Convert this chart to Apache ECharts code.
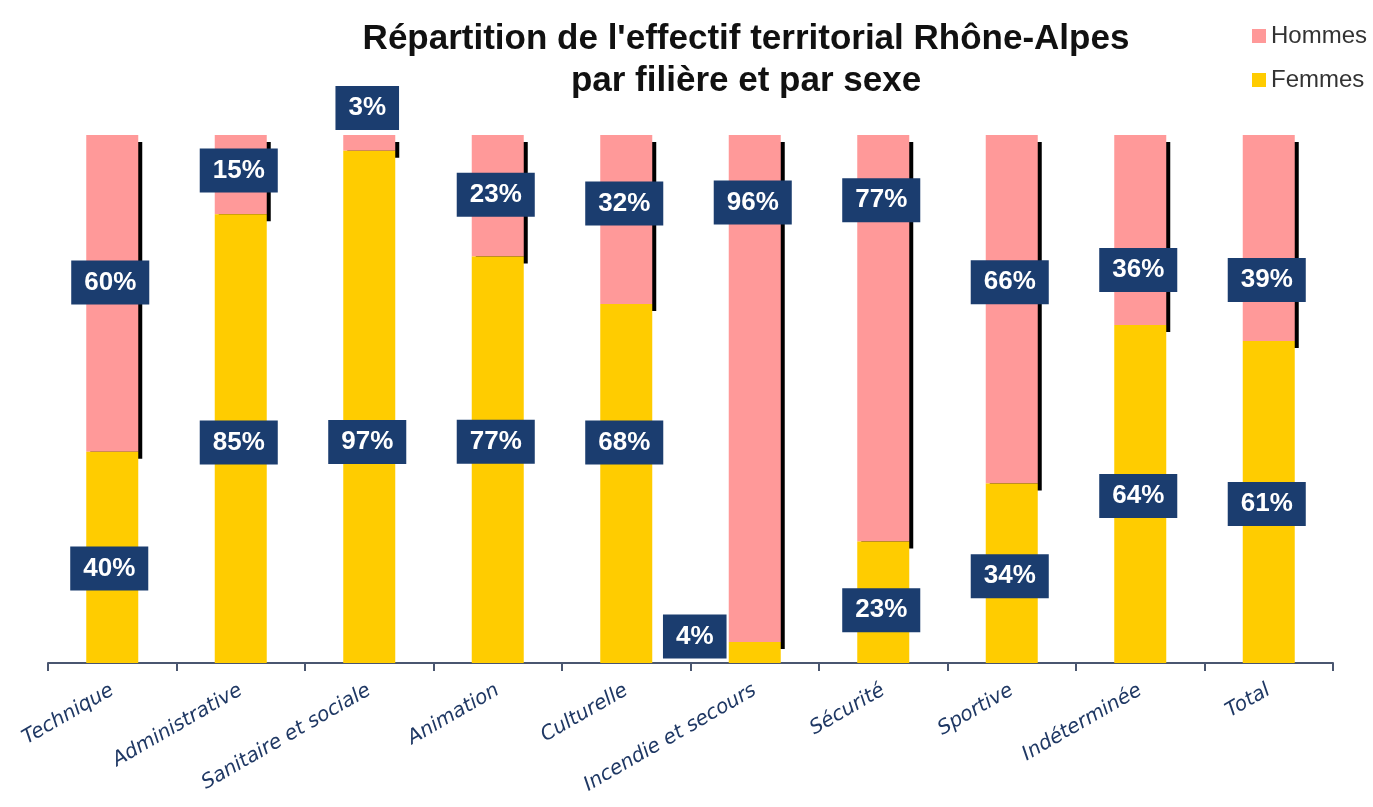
<!DOCTYPE html>
<html>
<head>
<meta charset="utf-8">
<script src="https://cdn.jsdelivr.net/npm/echarts@6/dist/echarts.min.js"></script>
<style>
  html, body { margin: 0; padding: 0; background: #fff; }
  #chart { width: 1373px; height: 807px; }
</style>
</head>
<body>
<div id="chart"></div>
<script>
// data
const categories = ['Technique', 'Administrative', 'Sanitaire et sociale', 'Animation', 'Culturelle',
  'Incendie et secours', 'Sécurité', 'Sportive', 'Indéterminée', 'Total'];
const femmes = [40, 85, 97, 77, 68, 4, 23, 34, 64, 61];
const hommes = [60, 15, 3, 23, 32, 96, 77, 66, 36, 39];

// label nudges (pixels) so boxes sit where the original put them
const hommesLabelDy = [-11, -4, -35, -1, -16, -186, -138, -27, 40, 42];
const femmesLabelDy = [11, 4, 35, -18, -41, -16, 8, 3, 2, 2];
const femmesLabelDx = [-3, -2, -2, -2, -2, -60, -2, -2, -2, -2];

const chart = echarts.init(document.getElementById('chart'));

const labelBox = {
  show: true,
  position: 'inside',
  formatter: '{c}%',
  color: '#fff',
  fontFamily: 'Arial, "Liberation Sans", sans-serif',
  fontWeight: 'bold',
  fontSize: 26,
  lineHeight: 30,
  backgroundColor: '#1b3d6f',
  padding: [7, 13]
};

const option = {
  animation: false,
  title: {
    text: "Répartition de l'effectif territorial Rhône-Alpes\npar filière et par sexe",
    left: 741,
    textAlign: 'center',
    top: 13,
    textStyle: {
      fontFamily: 'Arial, "Liberation Sans", sans-serif',
      fontSize: 35,
      fontWeight: 'bold',
      lineHeight: 42,
      color: '#111'
    }
  },
  legend: {
    data: ['Hommes', 'Femmes'],
    orient: 'vertical',
    left: 1247,
    top: 19,
    icon: 'rect',
    itemWidth: 14,
    itemHeight: 14,
    itemGap: 20,
    textStyle: {
      fontFamily: 'Arial, "Liberation Sans", sans-serif',
      fontSize: 24,
      color: '#333'
    }
  },
  grid: { left: 48, right: 40, top: 135, bottom: 144 },
  xAxis: {
    type: 'category',
    data: categories,
    axisLine: { lineStyle: { color: '#4a5670', width: 2 } },
    axisTick: { show: true, length: 8, lineStyle: { color: '#4a5670', width: 2 } },
    axisLabel: {
      interval: 0,
      rotate: 30,
      margin: 26,
      fontFamily: '"DejaVu Sans", Verdana, sans-serif',
      fontStyle: 'italic',
      fontSize: 20,
      color: '#1f3864'
    }
  },
  yAxis: {
    type: 'value',
    min: 0,
    max: 100,
    show: false
  },
  series: [
    {
      name: 'Femmes',
      type: 'bar',
      stack: 'total',
      barWidth: 52,
      z: 3,
      itemStyle: { color: '#ffcc00' },
      label: labelBox,
      data: femmes.map((v, i) => ({
        value: v,
        label: { offset: [femmesLabelDx[i], femmesLabelDy[i]] }
      }))
    },
    {
      name: 'Hommes',
      type: 'bar',
      stack: 'total',
      barWidth: 52,
      z: 2,
      itemStyle: {
        color: '#ff9999',
        shadowColor: '#000',
        shadowBlur: 0,
        shadowOffsetX: 4,
        shadowOffsetY: 7
      },
      label: labelBox,
      data: hommes.map((v, i) => ({
        value: v,
        label: { offset: [-2, hommesLabelDy[i]] }
      }))
    }
  ]
};

chart.setOption(option);
</script>
</body>
</html>
